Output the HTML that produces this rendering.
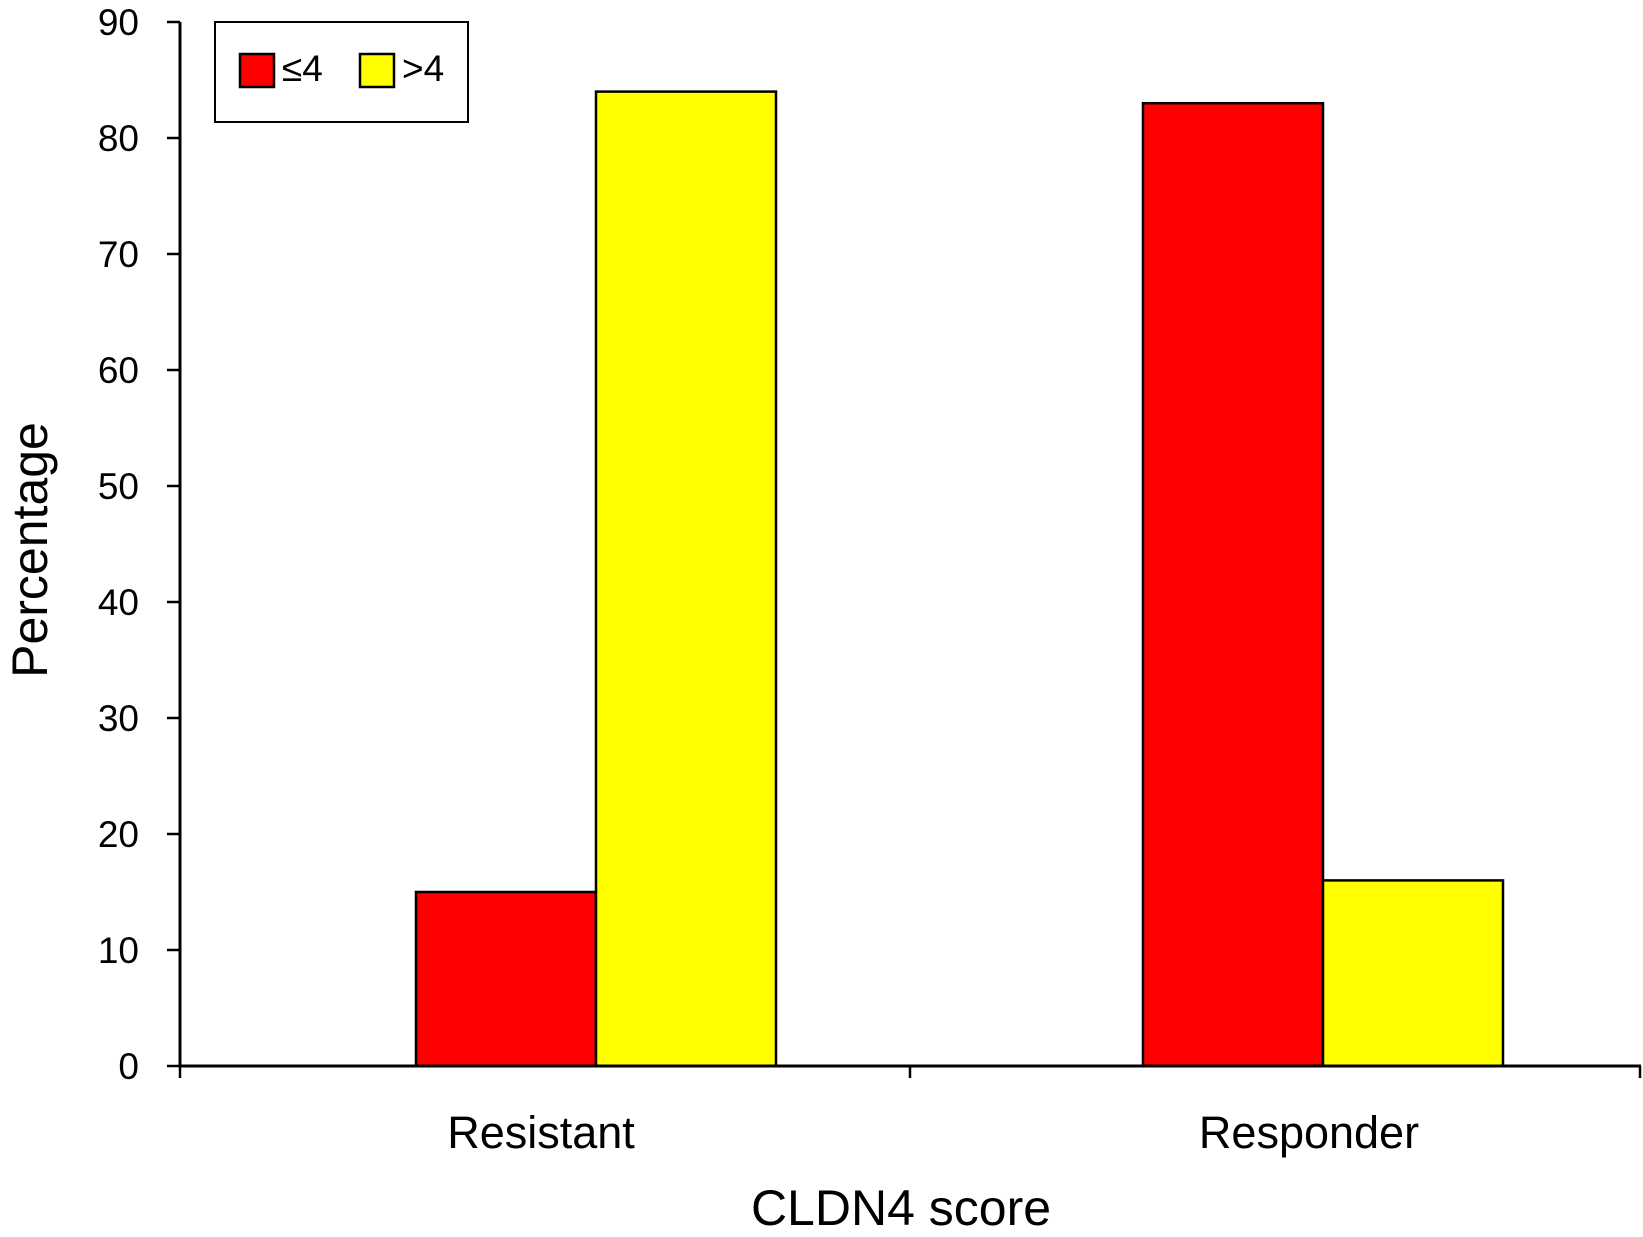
<!DOCTYPE html>
<html><head><meta charset="utf-8"><style>body{margin:0;background:#fff}svg{display:block;font-family:"Liberation Sans",sans-serif}</style></head>
<body>
<svg id="c" width="1643" height="1237"></svg>
<script>
const categories=["Resistant","Responder"];
const seriesLow=[15,83];
const seriesHigh=[84,16];
const yTicks=[0,10,20,30,40,50,60,70,80,90];
const NS="http://www.w3.org/2000/svg";
const svg=document.getElementById('c');
const x0=180,x1=1640,y0=1066,yTop=22,yMax=90;
const y=v=>y0-(v/yMax)*(y0-yTop);
const bandW=(x1-x0)/categories.length;
function mk(t,a,p){const e=document.createElementNS(NS,t);for(const k in a)e.setAttribute(k,a[k]);(p||svg).appendChild(e);return e;}
categories.forEach((c,i)=>{
  const bx=x0+i*bandW+(i==0?236:233), bw=180;
  const r=mk('rect',{x:bx,y:y(seriesLow[i]),width:bw,height:y0-y(seriesLow[i]),fill:'#ff0000',stroke:'#000','stroke-width':2.5});
  
  
  const r2=mk('rect',{x:bx+bw,y:y(seriesHigh[i]),width:bw,height:y0-y(seriesHigh[i]),fill:'#ffff00',stroke:'#000','stroke-width':2.5});
  
  
  const t=mk('text',{x:x0+i*bandW+(i==0?361:399),y:1148,'font-size':45,'text-anchor':'middle'});
  t.textContent=c;
  
  
});
mk('line',{x1:x0,y1:yTop,x2:x0,y2:y0,stroke:'#000','stroke-width':3});
mk('line',{x1:x0,y1:y0,x2:x1+1,y2:y0,stroke:'#000','stroke-width':3});
for(let i=0;i<=categories.length;i++){const xx=Math.min(x0+i*bandW,x1);mk('line',{x1:xx,y1:y0,x2:xx,y2:y0+12,stroke:'#000','stroke-width':2.5});}
yTicks.forEach(v=>{
  mk('line',{x1:167,y1:y(v),x2:x0,y2:y(v),stroke:'#000','stroke-width':2.5});
  const t=mk('text',{x:139,y:y(v)+13,'font-size':37,'text-anchor':'end'});
  t.textContent=v;
  
  
});
</script>
<svg style="position:absolute;left:0;top:0" width="1643" height="1237">
<text x="901" y="1225" font-size="50" text-anchor="middle" font-family="Liberation Sans,sans-serif">CLDN4 score</text>
<text transform="translate(47,550) rotate(-90)" font-size="50" text-anchor="middle" font-family="Liberation Sans,sans-serif">Percentage</text>
<g>
<rect x="215" y="22" width="253" height="100" fill="#fff" stroke="#000" stroke-width="2"/>
<rect x="240" y="54" width="34" height="33" fill="#ff0000" stroke="#000" stroke-width="2.5"/>
<text x="282" y="81" font-size="37" font-family="Liberation Sans,sans-serif">≤4</text>
<rect x="360" y="54" width="34" height="33" fill="#ffff00" stroke="#000" stroke-width="2.5"/>
<text x="402" y="81" font-size="37" font-family="Liberation Sans,sans-serif">&gt;4</text>
</g>
</svg>
</body></html>
